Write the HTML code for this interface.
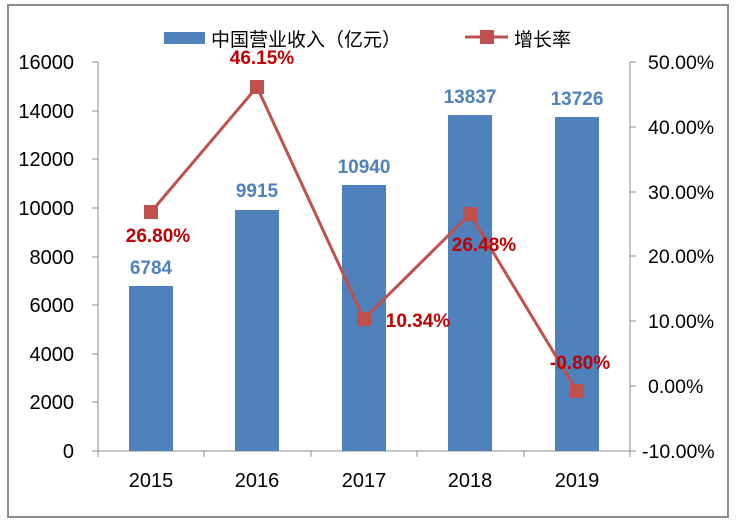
<!DOCTYPE html>
<html><head><meta charset="utf-8"><style>
body{margin:0;background:#fff;}
svg text{font-family:"Liberation Sans","Noto Sans CJK SC",sans-serif;}
</style></head><body>
<svg width="736" height="522" viewBox="0 0 736 522" xmlns="http://www.w3.org/2000/svg">
<rect x="0" y="0" width="736" height="522" fill="#fff"/>
<rect x="8" y="5" width="720" height="512" fill="none" stroke="#8c8c8c" stroke-width="2"/>
<g stroke="#8c8c8c" stroke-width="1" fill="none">
<line x1="98" y1="62" x2="98" y2="451"/>
<line x1="630" y1="62" x2="630" y2="451"/>
<line x1="98" y1="451" x2="630" y2="451"/>
<line x1="92" y1="62" x2="98" y2="62"/><line x1="92" y1="111" x2="98" y2="111"/><line x1="92" y1="159" x2="98" y2="159"/><line x1="92" y1="208" x2="98" y2="208"/><line x1="92" y1="257" x2="98" y2="257"/><line x1="92" y1="305" x2="98" y2="305"/><line x1="92" y1="354" x2="98" y2="354"/><line x1="92" y1="402" x2="98" y2="402"/><line x1="92" y1="451" x2="98" y2="451"/>
<line x1="630" y1="62" x2="636" y2="62"/><line x1="630" y1="127" x2="636" y2="127"/><line x1="630" y1="192" x2="636" y2="192"/><line x1="630" y1="256" x2="636" y2="256"/><line x1="630" y1="321" x2="636" y2="321"/><line x1="630" y1="386" x2="636" y2="386"/><line x1="630" y1="451" x2="636" y2="451"/>
<line x1="98" y1="451" x2="98" y2="457"/><line x1="204" y1="451" x2="204" y2="457"/><line x1="311" y1="451" x2="311" y2="457"/><line x1="417" y1="451" x2="417" y2="457"/><line x1="524" y1="451" x2="524" y2="457"/><line x1="630" y1="451" x2="630" y2="457"/>
</g>
<g font-size="20" fill="#000" text-anchor="end">
<text x="74" y="69">16000</text><text x="74" y="118">14000</text><text x="74" y="166">12000</text><text x="74" y="215">10000</text><text x="74" y="264">8000</text><text x="74" y="312">6000</text><text x="74" y="361">4000</text><text x="74" y="409">2000</text><text x="74" y="458">0</text>
</g>
<g font-size="19.5" fill="#000" text-anchor="start">
<text x="648" y="69">50.00%</text><text x="648" y="134">40.00%</text><text x="648" y="199">30.00%</text><text x="648" y="263">20.00%</text><text x="648" y="328">10.00%</text><text x="648" y="393">0.00%</text><text x="642" y="458">-10.00%</text>
</g>
<g font-size="20" fill="#000" text-anchor="middle">
<text x="151" y="487">2015</text><text x="257" y="487">2016</text><text x="364" y="487">2017</text><text x="470" y="487">2018</text><text x="577" y="487">2019</text>
</g>
<g fill="#4f81bd">
<rect x="129" y="286" width="44" height="165"/>
<rect x="235" y="210" width="44" height="241"/>
<rect x="342" y="185" width="44" height="266"/>
<rect x="448" y="115" width="44" height="336"/>
<rect x="555" y="117" width="44" height="334"/>
</g>
<g font-size="19" font-weight="bold" fill="#4f81bd" text-anchor="middle">
<text x="151" y="274">6784</text><text x="257" y="197">9915</text><text x="364" y="173">10940</text><text x="470" y="103">13837</text><text x="577" y="105">13726</text>
</g>
<polyline points="151,212 257,87 364,319 470,214 577,391" fill="none" stroke="#c0504d" stroke-width="3"/>
<g fill="#c0504d">
<rect x="144" y="205" width="14" height="14"/><rect x="250" y="80" width="14" height="14"/><rect x="357" y="312" width="14" height="14"/><rect x="463" y="207" width="14" height="14"/><rect x="570" y="384" width="14" height="14"/>
</g>
<g font-size="19" font-weight="bold" fill="#c00000" text-anchor="middle">
<text x="158" y="242">26.80%</text><text x="262" y="64">46.15%</text><text x="418" y="327">10.34%</text><text x="484" y="251">26.48%</text><text x="580" y="369">-0.80%</text>
</g>
<rect x="164" y="32" width="41" height="12" fill="#4f81bd"/>
<text x="211" y="46" font-size="19" fill="#000">中国营业收入（亿元）</text>
<line x1="465" y1="37" x2="508" y2="37" stroke="#c0504d" stroke-width="3"/>
<rect x="480" y="30" width="14" height="14" fill="#c0504d"/>
<text x="514" y="46" font-size="19" fill="#000">增长率</text>
</svg>
</body></html>
